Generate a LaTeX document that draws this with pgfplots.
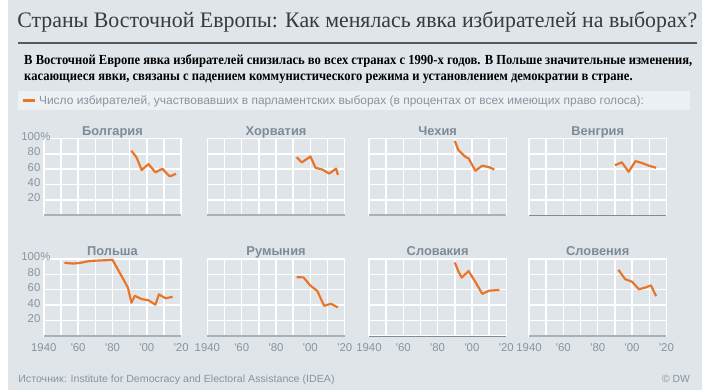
\documentclass[border=0pt]{standalone}
\usepackage{pgfplots}
\pgfplotsset{compat=1.18}
\usepackage{fontspec}
\usepackage{graphicx}
\setmainfont{Liberation Sans}
\newfontfamily\serifT{Liberation Serif}
\definecolor{bg}{HTML}{E0E5E9}
\definecolor{legbg}{HTML}{EEF1F4}
\definecolor{ttl}{HTML}{3A3A3A}
\definecolor{subc}{HTML}{2B2B2B}
\definecolor{gr}{HTML}{8794A1}
\definecolor{ptitle}{HTML}{7D8A97}
\definecolor{orng}{HTML}{E8752A}
\definecolor{basec}{HTML}{A9B1B9}
\definecolor{based}{HTML}{7F8C99}
\newsavebox\subA
\newsavebox\subB
\newdimen\tmpd
\tikzset{
  bl/.style={basec, line width=2pt},
  bld/.style={based, line width=1pt},
}
\pgfplotsset{
  pbase/.style={
    width=139pt, height=78pt, scale only axis, anchor=south west,
    xmin=1940, xmax=2020, ymin=0, ymax=100,
    xtick={1940,1950,...,2020}, ytick={0,20,...,100},
    xticklabels={}, yticklabels={},
    xmajorgrids=true, ymajorgrids=true,
    major grid style={draw=white, line width=1.5pt},
    axis line style={draw=white, line width=1.5pt},
    major tick length=0pt,
    every axis title/.style={at={(0.5,1)}, anchor=base, yshift=3pt, font=\fontsize{13}{15}\selectfont\bfseries, text=ptitle},
    ticklabel style={font=\fontsize{11.5}{13}\selectfont, text=gr},
    yticklabel style={yshift=2pt},
    xticklabel style={yshift=-4pt},
    clip=false,
  },
  ylab/.style={yticklabels={,20,40,60,80,100\rlap{\%}}},
  xlab/.style={xticklabels={1940,,\textquotesingle60,,\textquotesingle80,,\textquotesingle00,,\textquotesingle20}},
  dline/.style={orng, line width=2.2pt, line join=round, no marks},
}
\begin{document}
\sbox\subA{\fontsize{14}{16}\selectfont\serifT\bfseries В Восточной Европе явка избирателей снизилась во всех странах с 1990-х годов. В Польше значительные изменения,}
\sbox\subB{\fontsize{14}{16}\selectfont\serifT\bfseries касающиеся явки, связаны с падением коммунистического режима и установлением демократии в стране.}
\tmpd=\wd\subA
\pgfmathsetmacro\sx{676/\tmpd}
\begin{tikzpicture}
\path[use as bounding box] (0,0) rectangle (702pt,395pt);
\fill[bg] (0,0) rectangle (702pt,395pt);
% title
\node[anchor=base west, inner sep=0, text=ttl] at (9pt,367pt) {\resizebox{688pt}{16pt}{\fontsize{22}{26}\selectfont\serifT Страны Восточной Европы: Как менялась явка избирателей на выборах?}};
\draw[black!65, line width=1.3pt] (10pt,351.5pt) -- (697pt,351.5pt);
% subtitle
\node[anchor=base west, inner sep=0, text=subc] at (16pt,330pt) {\scalebox{\sx}[1]{\usebox\subA}};
\node[anchor=base west, inner sep=0, text=subc] at (16pt,314pt) {\scalebox{\sx}[1]{\usebox\subB}};
% legend
\fill[legbg] (10pt,284pt) rectangle (690pt,303pt);
\draw[orng, line width=2.5pt] (15pt,293.5pt) -- (27pt,293.5pt);
\node[anchor=base west, inner sep=0, text=gr] at (31pt,289pt) {\resizebox{612pt}{\height}{\fontsize{12}{14}\selectfont Число избирателей, участвовавших в парламентских выборах (в процентах от всех имеющих право голоса):}};
% source
\node[anchor=base west, inner sep=0, text=gr] at (10pt,8pt) {\resizebox{320pt}{\height}{\fontsize{10.5}{12}\selectfont Источник: Institute for Democracy and Electoral Assistance (IDEA)}};
\node[anchor=base east, inner sep=0, text=gr] at (690pt,8pt) {\fontsize{10.5}{12}\selectfont © DW};

% Row 1
\begin{axis}[pbase, ylab, at={(36pt,177pt)}, title={Болгария}]
\addplot[dline] coordinates {(1991,83.9)(1994,75.2)(1997,58.9)(2001,66.6)(2005,55.8)(2009,60.6)(2013,51.3)(2014,51.1)(2017,54.1)};
\draw[bl] (rel axis cs:0,0) -- (rel axis cs:1,0);
\end{axis}
\begin{axis}[pbase, at={(201.5pt,177pt)}, title={Хорватия}]
\addplot[dline] coordinates {(1992,75.6)(1995,68.8)(2000,76.5)(2003,61.7)(2007,59.5)(2011,54.3)(2015,60.8)(2016,52.6)};
\draw[bl] (rel axis cs:0,0) -- (rel axis cs:1,0);
\end{axis}
\begin{axis}[pbase, at={(365pt,177pt)}, title={Чехия}]
\addplot[dline] coordinates {(1990,96.8)(1992,85.1)(1996,76.3)(1998,74.0)(2002,58.0)(2006,64.5)(2010,62.6)(2013,59.5)};
\draw[bl] (rel axis cs:0,0) -- (rel axis cs:1,0);
\end{axis}
\begin{axis}[pbase, at={(527pt,177pt)}, title={Венгрия}]
\addplot[dline] coordinates {(1990,65.1)(1994,68.9)(1998,56.7)(2002,70.5)(2006,67.8)(2010,64.4)(2014,61.8)};
\draw[bld] (rel axis cs:0,0) -- (rel axis cs:1,0);
\end{axis}
% Row 2
\begin{axis}[pbase, ylab, xlab, at={(36pt,55pt)}, title={Польша}]
\addplot[dline] coordinates {(1952,95.0)(1957,94.0)(1961,94.8)(1965,96.6)(1969,97.6)(1972,97.9)(1976,98.3)(1980,98.9)(1985,78.9)(1989,62.7)(1991,43.2)(1993,52.1)(1997,47.9)(2001,46.3)(2005,40.6)(2007,53.9)(2011,48.9)(2015,50.9)};
\draw[bl] (rel axis cs:0,0) -- (rel axis cs:1,0);
\end{axis}
\begin{axis}[pbase, xlab, at={(201.5pt,55pt)}, title={Румыния}]
\addplot[dline] coordinates {(1992,76.3)(1996,76.0)(2000,65.3)(2004,58.5)(2008,39.2)(2012,41.8)(2016,37.0)};
\draw[bl] (rel axis cs:0,0) -- (rel axis cs:1,0);
\end{axis}
\begin{axis}[pbase, xlab, at={(365pt,55pt)}, title={Словакия}]
\addplot[dline] coordinates {(1990,95.4)(1992,84.2)(1994,75.7)(1998,84.2)(2002,70.1)(2006,54.7)(2010,58.8)(2012,59.1)(2016,59.8)};
\draw[bld] (rel axis cs:0,0) -- (rel axis cs:1,0);
\end{axis}
\begin{axis}[pbase, xlab, at={(527pt,55pt)}, title={Словения}]
\addplot[dline] coordinates {(1992,85.9)(1996,73.7)(2000,70.4)(2004,60.6)(2008,63.1)(2011,65.6)(2014,51.7)};
\draw[bl] (rel axis cs:0,0) -- (rel axis cs:1,0);
\end{axis}
\end{tikzpicture}
\end{document}
